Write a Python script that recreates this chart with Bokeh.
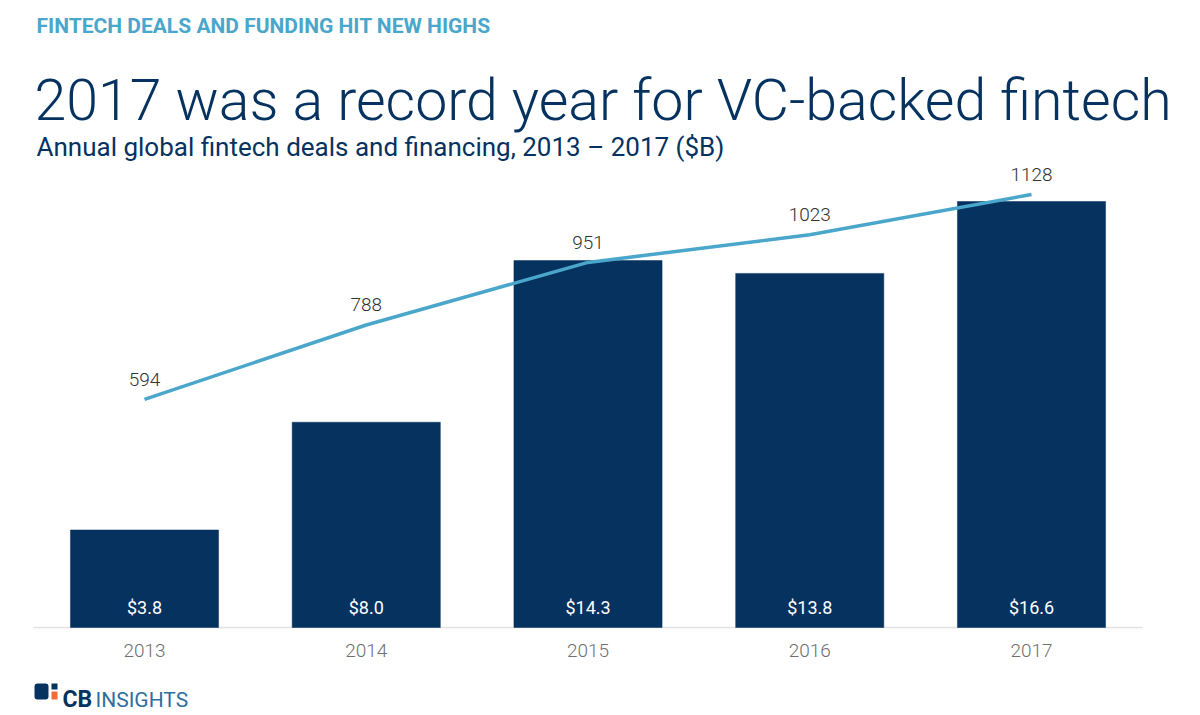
from bokeh.plotting import figure
from bokeh.models import Range1d, ColumnDataSource, Label, BoxAnnotation
from bokeh.core.properties import value
from bokeh.embed import file_html
from bokeh.resources import INLINE

# ---- data ----
years = [2013, 2014, 2015, 2016, 2017]
funding = [3.8, 8.0, 14.3, 13.8, 16.6]          # $B
deals = [594, 788, 951, 1023, 1128]
year_labels = [str(y) for y in years]
funding_labels = ["$%.1f" % v for v in funding]
deal_labels = [str(d) for d in deals]

header = "FINTECH DEALS AND FUNDING HIT NEW HIGHS"
title = "2017 was a record year for VC-backed fintech"
subtitle = "Annual global fintech deals and financing, 2013 \u2013 2017 ($B)"

NAVY = "#05325f"
LINE = "#4aa7cb"

W, H = 1192, 712
step = 221.75
x0 = 144.0
base = 627.0
bar_ppu = 25.66
deal_ppu = 0.3839

x_start = years[0] - x0 / step
x_end = x_start + W / step
y_end = base / bar_ppu
y_start = -(H - base) / bar_ppu

p = figure(width=W, height=H, output_backend="svg", toolbar_location=None,
           x_range=Range1d(x_start, x_end), y_range=Range1d(y_start, y_end),
           x_axis_location=None, y_axis_location=None, min_border=0,
           background_fill_color="white", border_fill_color="white")
p.outline_line_color = None
p.grid.visible = False
p.extra_y_ranges = {"deals": Range1d(-(H - base) / deal_ppu, base / deal_ppu)}

src = ColumnDataSource(dict(year=years, funding=funding, deals=deals,
                            ylab=year_labels, flab=funding_labels, dlab=deal_labels,
                            zero=[0] * len(years)))

# baseline
p.segment(x0=[years[0] - 0.5], y0=[0], x1=[years[-1] + 0.5], y1=[0],
          line_color="#e3e3e3", line_width=1.5)

p.vbar(x="year", top="funding", bottom=0, width=0.668, source=src,
       fill_color=NAVY, line_color=NAVY, line_width=0.5)

p.line(x="year", y="deals", source=src, y_range_name="deals",
       line_color=LINE, line_width=3.5)

p.text(x="year", y="zero", text="flab", source=src, text_color="white",
       text_font=value("Roboto"), text_font_size="18px", text_align="center",
       text_baseline="middle", y_offset=-20)

p.text(x="year", y="deals", text="dlab", source=src, y_range_name="deals",
       text_color="#333333", text_font=value("Roboto Light"), text_font_size="19px",
       text_align="center", text_baseline="middle", y_offset=-20)

p.text(x="year", y="zero", text="ylab", source=src, text_color="#707070",
       text_font=value("Roboto Light"), text_font_size="19px", text_align="center",
       text_baseline="middle", y_offset=23)

T = H - 707  # shift so screen-y values are measured from y=707

# titles
p.add_layout(Label(x=36, y=682 + T, x_units="screen", y_units="screen", text=header,
                   text_color=LINE, text_font="Roboto", text_font_style="bold",
                   text_font_size="21px", text_baseline="alphabetic"))
p.add_layout(Label(x=34, y=607 + T, x_units="screen", y_units="screen", text=title,
                   text_color=NAVY, text_font="Roboto Light",
                   text_font_size="57.3px", text_baseline="alphabetic"))
p.add_layout(Label(x=36, y=561 + T, x_units="screen", y_units="screen", text=subtitle,
                   text_color=NAVY, text_font="Roboto",
                   text_font_size="26px", text_baseline="alphabetic"))

# logo
p.add_layout(BoxAnnotation(left=34, right=48, bottom=8 + T, top=24 + T, left_units="screen",
                           right_units="screen", bottom_units="screen", top_units="screen",
                           fill_color=NAVY, fill_alpha=1, line_color=None, border_radius=3))
p.add_layout(BoxAnnotation(left=51, right=57, bottom=18 + T, top=24 + T, left_units="screen",
                           right_units="screen", bottom_units="screen", top_units="screen",
                           fill_color=NAVY, fill_alpha=1, line_color=None))
p.add_layout(BoxAnnotation(left=51, right=57, bottom=8 + T, top=16 + T, left_units="screen",
                           right_units="screen", bottom_units="screen", top_units="screen",
                           fill_color="#f26b3a", fill_alpha=1, line_color=None))
p.add_layout(Label(x=62, y=8 + T, x_units="screen", y_units="screen", text="CB",
                   text_color=NAVY, text_font="Roboto", text_font_style="bold",
                   text_font_size="23px", text_baseline="alphabetic"))
p.add_layout(Label(x=95, y=8 + T, x_units="screen", y_units="screen", text="INSIGHTS",
                   text_color="#2f6f9f", text_font="Roboto",
                   text_font_size="21px", text_baseline="alphabetic"))

open("out.html", "w").write(file_html(p, INLINE))
